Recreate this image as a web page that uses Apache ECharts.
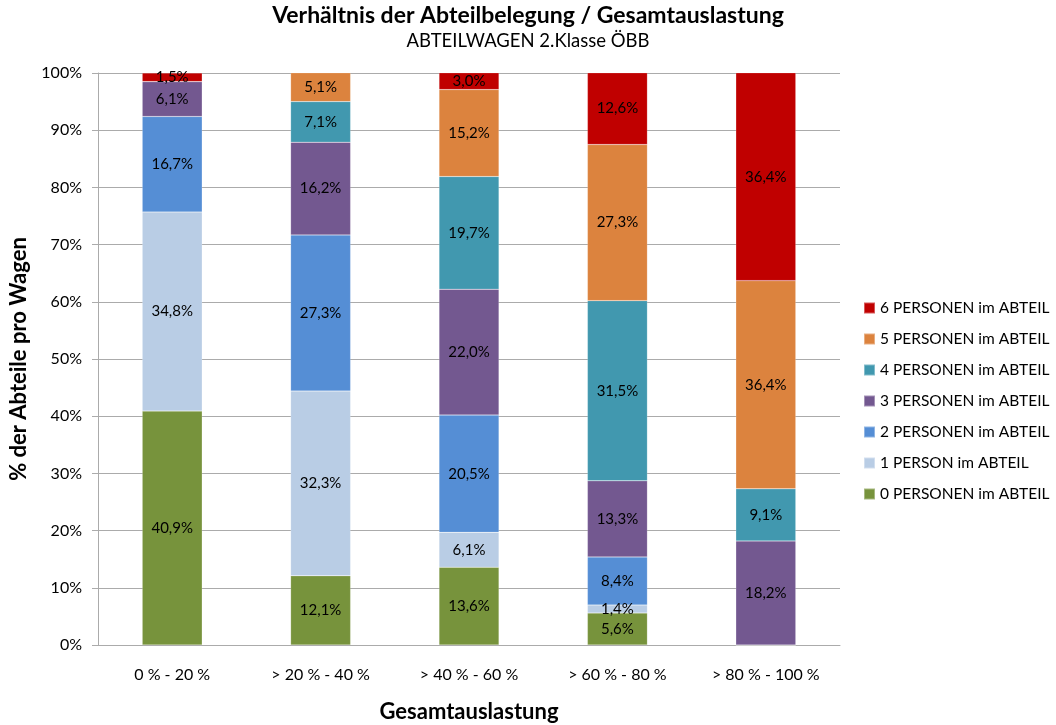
<!DOCTYPE html>
<html>
<head>
<meta charset="utf-8">
<script src="https://cdn.jsdelivr.net/npm/echarts@6/dist/echarts.min.js"></script>
<style>
  html, body { margin: 0; padding: 0; background: #fff; }
  #chart { width: 1056px; height: 725px; }
</style>
</head>
<body>
<div id="chart"></div>
<script>
  // Gesamtauslastung classes
  const categories = ['0 % - 20 %', '> 20 % - 40 %', '> 40 % - 60 %', '> 60 % - 80 %', '> 80 % - 100 %']
  const yTicks = ['0%', '10%', '20%', '30%', '40%', '50%', '60%', '70%', '80%', '90%', '100%']

  // share of compartments per car, in percent
  const p0 = [40.9, 12.1, 13.6, 5.6, 0]
  const p1 = [34.8, 32.3, 6.1, 1.4, 0]
  const p2 = [16.7, 27.3, 20.5, 8.4, 0]
  const p3 = [6.1, 16.2, 22.0, 13.3, 18.2]
  const p4 = [0, 7.1, 19.7, 31.5, 9.1]
  const p5 = [0, 5.1, 15.2, 27.3, 36.4]
  const p6 = [1.5, 0, 3.0, 12.6, 36.4]

  const seriesNames = [
    '0 PERSONEN im ABTEIL',
    '1 PERSON im ABTEIL',
    '2 PERSONEN im ABTEIL',
    '3 PERSONEN im ABTEIL',
    '4 PERSONEN im ABTEIL',
    '5 PERSONEN im ABTEIL',
    '6 PERSONEN im ABTEIL'
  ]
  const seriesData = [p0, p1, p2, p3, p4, p5, p6]
  const colors = ['#77933C', '#B9CDE5', '#558ED5', '#735890', '#4198AF', '#DC833E', '#C00000']

  const font = 'Lato, "Open Sans", sans-serif'

  const myChart = echarts.init(document.getElementById('chart'))

  const option = {
    animation: false,
    color: colors,
    textStyle: { fontFamily: font },
    title: {
      text: 'Verhältnis der Abteilbelegung / Gesamtauslastung',
      subtext: 'ABTEILWAGEN 2.Klasse ÖBB',
      left: 'center',
      top: -1,
      itemGap: 5,
      textStyle: { fontFamily: font, fontSize: 23, fontWeight: 'bold', color: '#000' },
      subtextStyle: { fontFamily: font, fontSize: 18.5, color: '#000' }
    },
    legend: {
      orient: 'vertical',
      left: 858,
      top: 295,
      itemWidth: 11,
      itemHeight: 11,
      itemGap: 15,
      icon: 'rect',
      data: seriesNames.slice().reverse(),
      textStyle: { fontFamily: font, fontSize: 15.5, color: '#000', padding: [2, 0, 0, 0] }
    },
    grid: { left: 98, right: 216, top: 73, bottom: 80, outerBoundsMode: 'none' },
    xAxis: {
      type: 'category',
      data: categories,
      name: 'Gesamtauslastung',
      nameLocation: 'middle',
      nameGap: 56,
      nameTextStyle: { fontFamily: font, fontSize: 22, fontWeight: 'bold', color: '#000' },
      axisLine: { lineStyle: { color: '#ABABAB' } },
      axisTick: { show: false },
      axisLabel: { margin: 22, fontSize: 16, color: '#000', fontFamily: font }
    },
    yAxis: {
      type: 'value',
      min: 0,
      max: 100,
      interval: 10,
      name: '% der Abteile pro Wagen',
      nameLocation: 'middle',
      nameGap: 68,
      nameTextStyle: { fontFamily: font, fontSize: 22, fontWeight: 'bold', color: '#000' },
      axisLine: { show: true, lineStyle: { color: '#ABABAB' } },
      axisTick: { show: true, length: 6, lineStyle: { color: '#ABABAB' } },
      splitLine: { lineStyle: { color: '#ABABAB' } },
      axisLabel: {
        margin: 16,
        fontSize: 16,
        color: '#000',
        fontFamily: font,
        formatter: function (v) { return yTicks[Math.round(v / 10)] }
      }
    },
    series: seriesNames.map(function (name, i) {
      return {
        name: name,
        type: 'bar',
        stack: 'total',
        barWidth: 60,
        data: seriesData[i],
        itemStyle: { borderColor: 'rgba(255,255,255,0.35)', borderWidth: 0.5 },
        label: {
          show: true,
          position: 'inside',
          fontFamily: font,
          fontSize: 15,
          color: '#000',
          formatter: function (p) {
            if (!p.value) return ''
            return p.value.toFixed(1).replace('.', ',') + '%'
          }
        }
      }
    })
  }
  myChart.setOption(option)
</script>
</body>
</html>
